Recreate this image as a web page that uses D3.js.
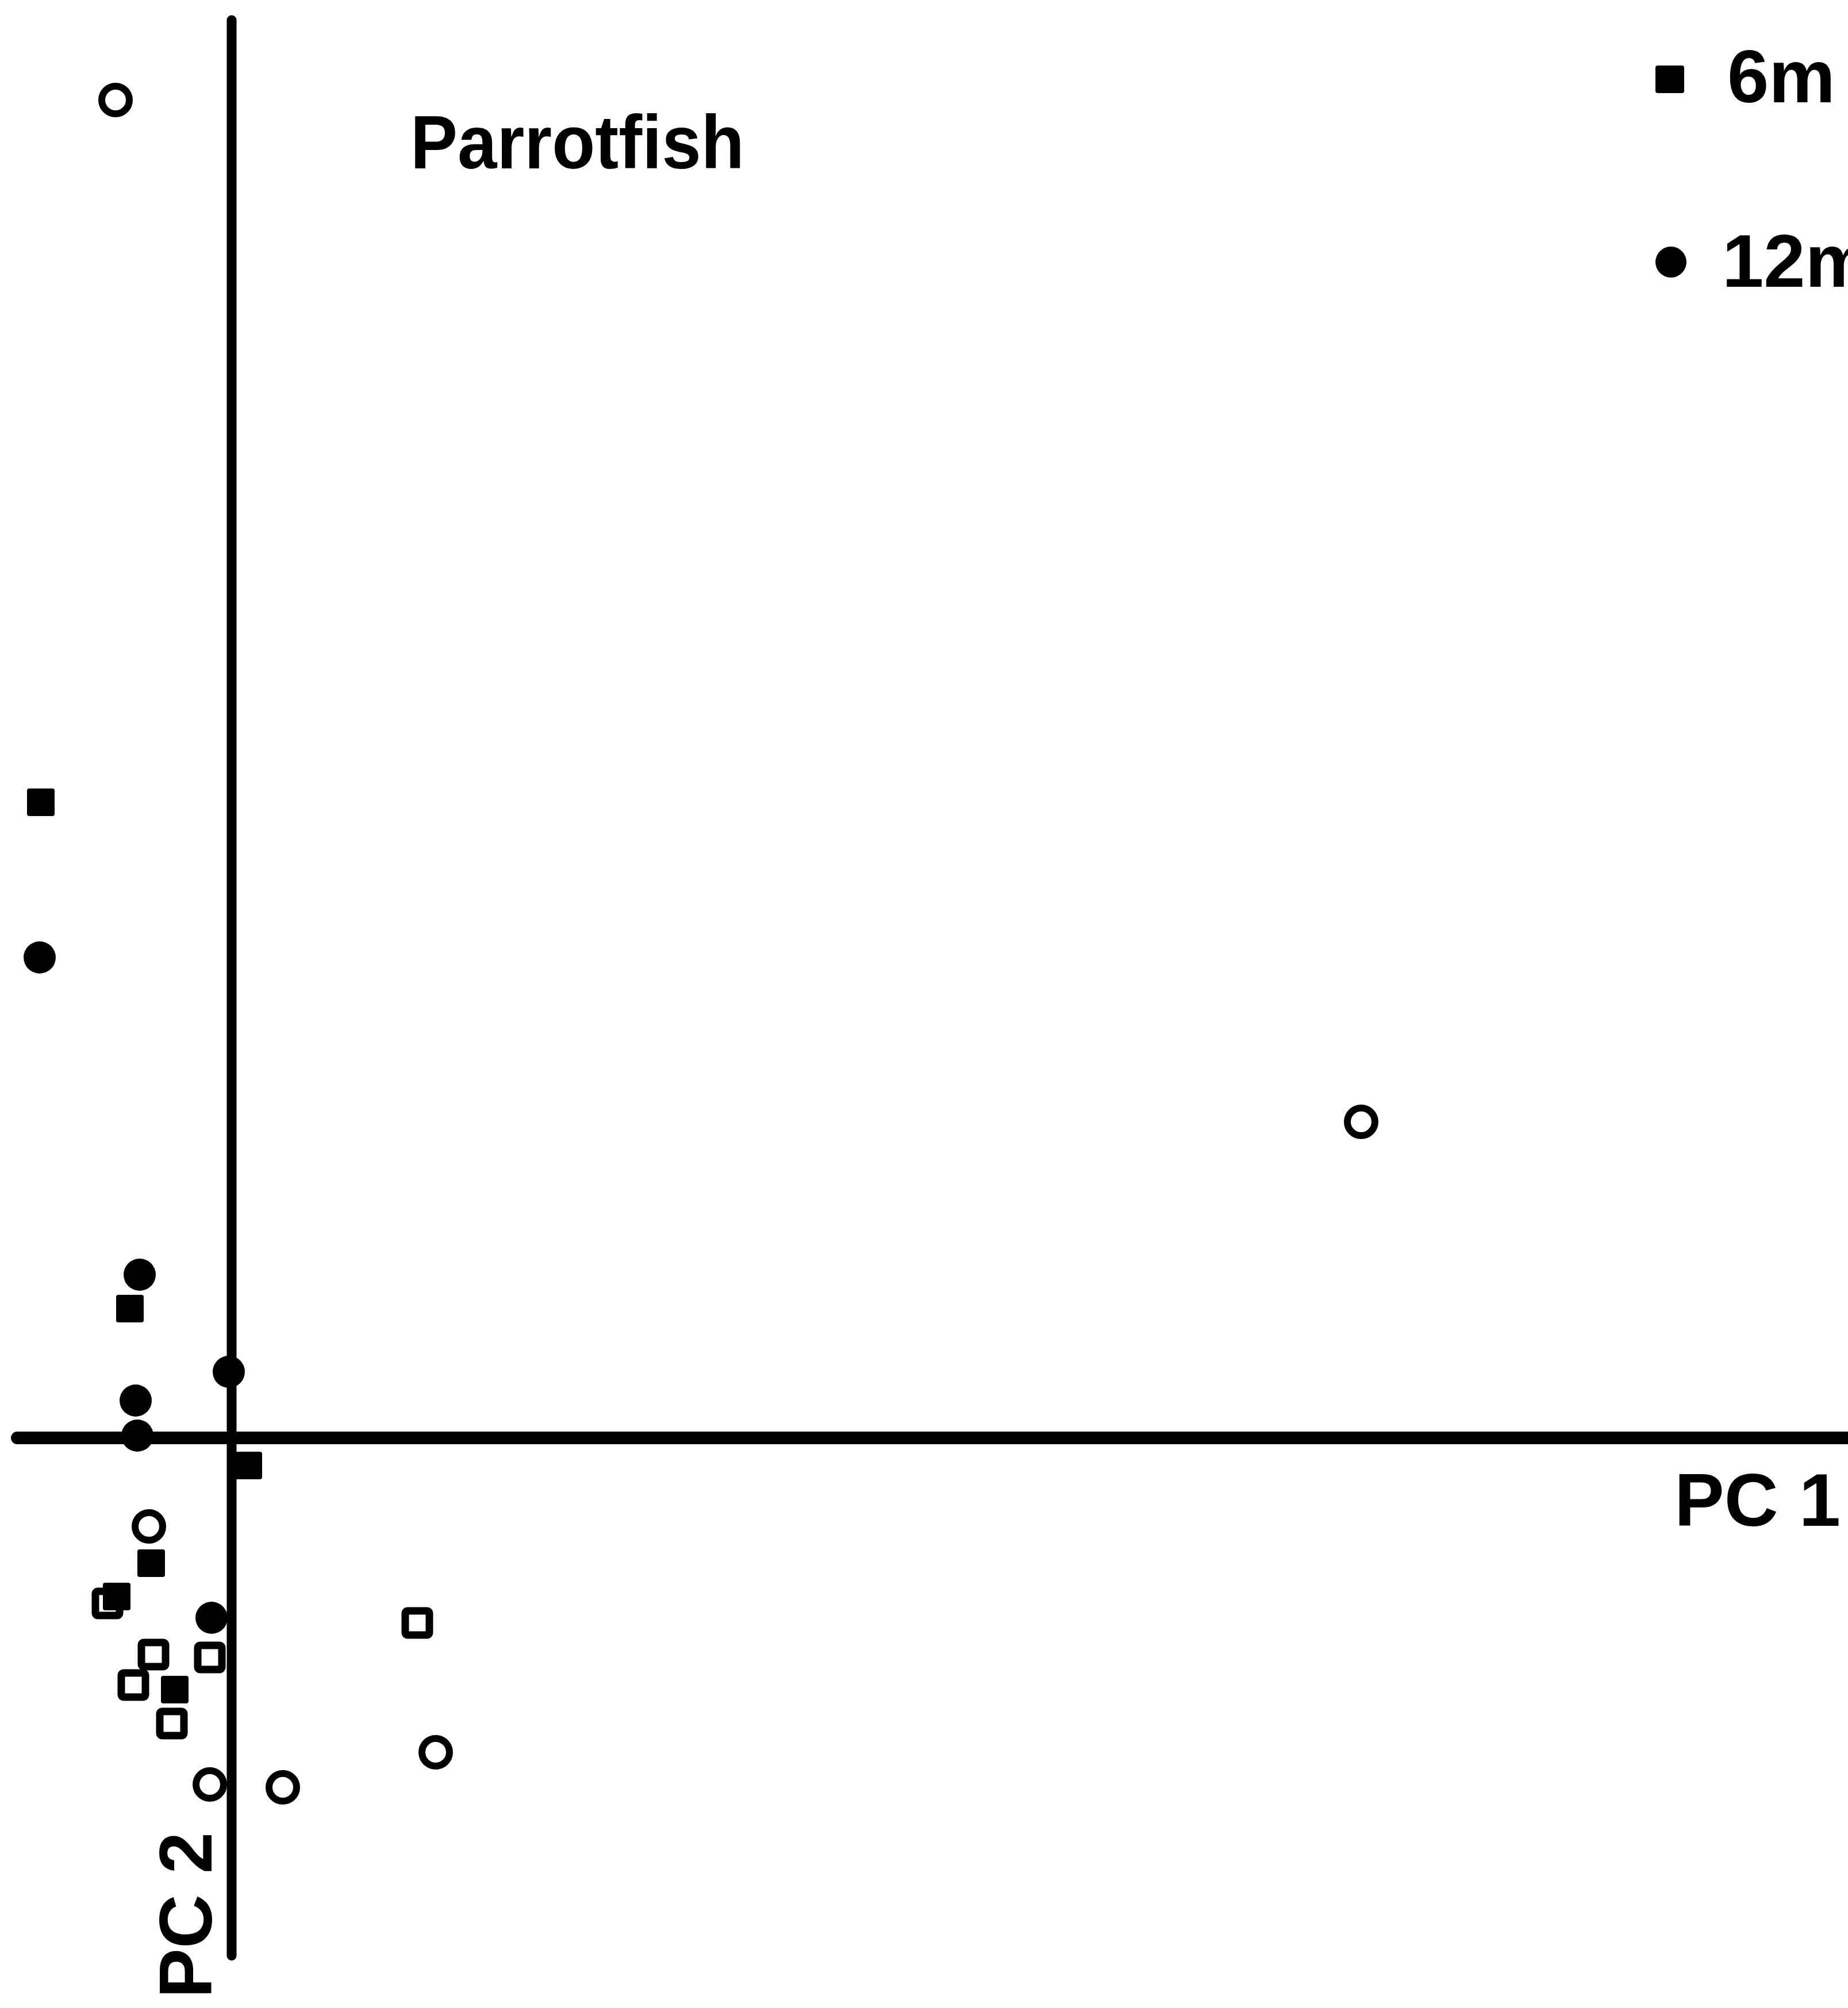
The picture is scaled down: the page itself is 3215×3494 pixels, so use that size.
<!DOCTYPE html>
<html>
<head>
<meta charset="utf-8">
<script src="https://cdn.jsdelivr.net/npm/d3@7"></script>
<style>
  html, body { margin: 0; padding: 0; background: #fff; }
  svg { display: block; }
  text { font-family: "Liberation Sans", Arial, Helvetica, sans-serif; font-weight: bold; fill: #000; }
</style>
</head>
<body>
<svg id="chart" width="3215" height="3494"></svg>
<script>
// PCA scores (PC1, PC2) for parrotfish samples
const depth6m = [
  [-1.66, 5.53], [-0.885, 1.125], [0.145, -0.24],
  [-0.70, -1.09], [-1.00, -1.38], [-0.495, -2.19]
];
const depth12m = [
  [-1.67, 4.18], [-0.80, 1.42], [-0.025, 0.575],
  [-0.835, 0.325], [-0.82, 0.02], [-0.175, -1.565]
];
const openSquares = [
  [1.615, -1.61], [-0.19, -1.91], [-0.68, -1.885],
  [-0.855, -2.15], [-0.52, -2.485], [-1.08, -1.44]
];
const openCircles = [
  [-1.01, 11.64], [9.825, 2.75], [-0.72, -0.77],
  [-0.19, -3.015], [0.445, -3.04], [1.775, -2.735]
];

// extent of the drawn axis lines, in score units
const pc1Extent = [-1.865, 14.1];
const pc2Extent = [-4.505, 12.335];

const legendLabels = ["6m", "12m"];
const title = "Parrotfish";
const xLabel = "PC 1";
const yLabel = "PC 2";

const svg = d3.select("#chart");

const x = d3.scaleLinear().domain([-2, 14]).range([3, 3203]);
const y = d3.scaleLinear().domain([-5, 12]).range([3502, 102]);

// axes through the origin
svg.append("line")
  .attr("x1", x(pc1Extent[0])).attr("x2", x(pc1Extent[1]))
  .attr("y1", y(0)).attr("y2", y(0))
  .attr("stroke", "#000").attr("stroke-width", 22).attr("stroke-linecap", "round");
svg.append("line")
  .attr("x1", x(0)).attr("x2", x(0))
  .attr("y1", y(pc2Extent[0])).attr("y2", y(pc2Extent[1]))
  .attr("stroke", "#000").attr("stroke-width", 17).attr("stroke-linecap", "round");

const g = svg.append("g");

// open symbols
g.selectAll(".osq").data(openSquares).join("rect")
  .attr("class", "osq")
  .attr("x", d => x(d[0]) - 21).attr("y", d => y(d[1]) - 21)
  .attr("width", 42).attr("height", 42).attr("rx", 4)
  .attr("fill", "#fff").attr("stroke", "#000").attr("stroke-width", 13);

g.selectAll(".oci").data(openCircles).join("circle")
  .attr("class", "oci")
  .attr("cx", d => x(d[0])).attr("cy", d => y(d[1]))
  .attr("r", 24)
  .attr("fill", "#fff").attr("stroke", "#000").attr("stroke-width", 12);

// filled symbols
g.selectAll(".fsq").data(depth6m).join("rect")
  .attr("class", "fsq")
  .attr("x", d => x(d[0]) - 24).attr("y", d => y(d[1]) - 24)
  .attr("width", 48).attr("height", 48).attr("rx", 4)
  .attr("fill", "#000");

g.selectAll(".fci").data(depth12m).join("circle")
  .attr("class", "fci")
  .attr("cx", d => x(d[0])).attr("cy", d => y(d[1]))
  .attr("r", 28)
  .attr("fill", "#000");

// title
svg.append("text")
  .attr("x", 714).attr("y", 293)
  .attr("font-size", 132)
  .attr("textLength", 581).attr("lengthAdjust", "spacingAndGlyphs")
  .text(title);

// axis labels
svg.append("text")
  .attr("x", 2913).attr("y", 2655)
  .attr("font-size", 130)
  .text(xLabel);

svg.append("text")
  .attr("transform", "translate(368,3188) rotate(-90)")
  .attr("text-anchor", "end")
  .attr("font-size", 130)
  .text(yLabel);

// legend (the second entry runs off the right edge)
const legend = svg.append("g");
legend.append("rect")
  .attr("x", 2880).attr("y", 114).attr("width", 50).attr("height", 48).attr("rx", 4)
  .attr("fill", "#000");
legend.append("text")
  .attr("x", 3005).attr("y", 178).attr("font-size", 130)
  .text(legendLabels[0]);
legend.append("circle")
  .attr("cx", 2907).attr("cy", 456).attr("r", 27)
  .attr("fill", "#000");
legend.append("text")
  .attr("x", 2996).attr("y", 499).attr("font-size", 130)
  .text(legendLabels[1]);
</script>
</body>
</html>
